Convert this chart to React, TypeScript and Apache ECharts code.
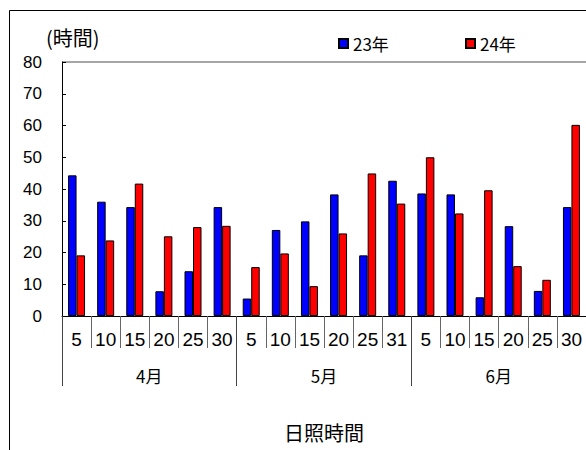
import React, { useEffect, useRef } from "react";
import * as echarts from "echarts";

const days = ["5", "10", "15", "20", "25", "30", "5", "10", "15", "20", "25", "31", "5", "10", "15", "20", "25", "30"];
const months = ["4月", "5月", "6月"];
const seriesNames = ["23年", "24年"];
const hours23 = [44.3, 36.0, 34.3, 7.8, 14.1, 34.3, 5.5, 27.1, 29.8, 38.3, 19.1, 42.6, 38.6, 38.3, 5.9, 28.3, 7.9, 34.3];
const hours24 = [19.1, 23.8, 41.7, 25.1, 28.0, 28.4, 15.4, 19.7, 9.4, 26.0, 44.9, 35.4, 50.0, 32.3, 39.6, 15.7, 11.4, 60.2];
const yTicks = { min: 0, max: 80, interval: 10 };

const JP = "'Noto Sans CJK JP', sans-serif";
const NUM = "'Liberation Sans', Arial, sans-serif";
const NARROW = "'Liberation Sans Narrow', 'Liberation Sans', Arial, sans-serif";

export default function App() {
  const ref = useRef<HTMLDivElement>(null);
  useEffect(() => {
    if (!ref.current) return;
    const chart = echarts.init(ref.current, null, { renderer: "svg" });
    const splitColors = Array.from({ length: 9 }, (_, i) => (i === 8 ? "#a6a6a6" : "rgba(0,0,0,0)"));
    chart.setOption({
      animation: false,
      backgroundColor: "#ffffff",
      title: {
        text: "(時間)",
        left: 46,
        top: 27,
        padding: 0,
        textStyle: { fontFamily: JP, fontSize: 20, fontWeight: "normal", color: "#000" },
      },
      legend: [
        {
          data: [seriesNames[0]],
          left: 338,
          top: 35,
          padding: 0,
          itemWidth: 9,
          itemHeight: 9,
          icon: "rect",
          textStyle: { fontFamily: JP, fontSize: 17, color: "#000" },
        },
        {
          data: [seriesNames[1]],
          left: 465,
          top: 35,
          padding: 0,
          itemWidth: 9,
          itemHeight: 9,
          icon: "rect",
          textStyle: { fontFamily: JP, fontSize: 17, color: "#000" },
        },
      ],
      grid: { left: 62, right: 0, top: 62, bottom: 134, containLabel: false },
      xAxis: [
        {
          type: "category",
          data: days,
          position: "bottom",
          boundaryGap: true,
          axisLine: { show: true, lineStyle: { color: "#000", width: 1 } },
          axisTick: { show: true, interval: 0, length: 32, lineStyle: { color: "#666" } },
          axisLabel: { interval: 0, margin: 14, fontFamily: NARROW, fontSize: 19, color: "#000" },
          splitLine: { show: false },
        },
        {
          type: "category",
          data: months,
          position: "bottom",
          boundaryGap: true,
          axisLine: { show: false },
          axisTick: { show: true, interval: 0, length: 70, lineStyle: { color: "#444" } },
          axisLabel: { interval: 0, margin: 51, fontFamily: JP, fontSize: 17, color: "#000" },
          name: "日照時間",
          nameLocation: "middle",
          nameGap: 106,
          nameTextStyle: { fontFamily: JP, fontSize: 20, color: "#000", verticalAlign: "top" },
          splitLine: { show: false },
        },
      ],
      yAxis: {
        type: "value",
        min: yTicks.min,
        max: yTicks.max,
        interval: yTicks.interval,
        axisLine: { show: true, lineStyle: { color: "#000", width: 1 } },
        axisTick: { show: true, inside: true, length: 4, lineStyle: { color: "#000" } },
        axisLabel: { margin: 20, fontFamily: NUM, fontSize: 17, color: "#000" },
        splitLine: { show: true, lineStyle: { color: splitColors, width: 2 } },
      },
      graphic: [
        {
          type: "rect",
          shape: { x: 9.5, y: 10.5, width: 800, height: 700 },
          style: { fill: "none", stroke: "#000", lineWidth: 1 },
          silent: true,
          z: 100,
        },
      ],
      series: [
        {
          name: seriesNames[0],
          type: "bar",
          xAxisIndex: 0,
          data: hours23,
          barWidth: 8.5,
          barGap: "0%",
          itemStyle: { color: "#0000ff", borderColor: "#000", borderWidth: 1 },
        },
        {
          name: seriesNames[1],
          type: "bar",
          xAxisIndex: 0,
          data: hours24,
          barWidth: 8.5,
          barGap: "0%",
          itemStyle: { color: "#ff0000", borderColor: "#000", borderWidth: 1 },
        },
      ],
    });
    return () => chart.dispose();
  }, []);
  return (
    <div
      ref={ref}
      style={{ position: "absolute", left: 0, top: 0, width: 586, height: 450 }}
    />
  );
}
